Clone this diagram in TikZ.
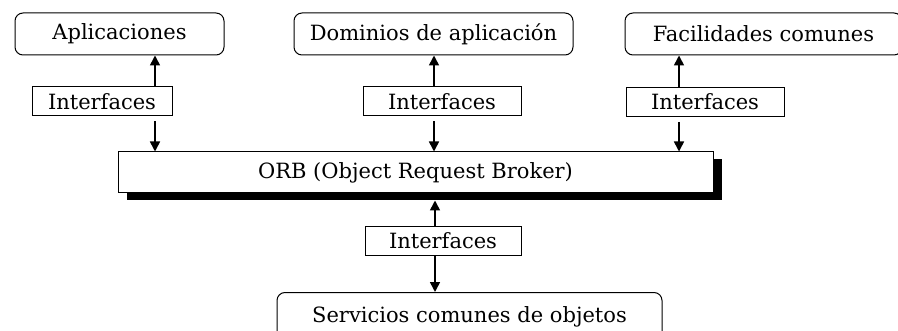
\documentclass[tikz,border=0pt]{standalone}
\usepackage{fontspec}
\setmainfont{DejaVu Serif}
\usetikzlibrary{positioning, arrows.meta, shadows}

\begin{document}
\begin{tikzpicture}[x=0.5pt, y=-0.5pt,
  rbox/.style={draw, rounded corners=4pt, line width=0.5pt, font=\fontsize{10.5}{12}\selectfont, inner sep=0pt},
  ibox/.style={draw, line width=0.5pt, font=\fontsize{10.5}{12}\selectfont, inner sep=0pt, minimum height=14.5pt},
  arr/.style={line width=0.8pt, -{Triangle[width=5pt, length=5pt]}}]
\useasboundingbox (0,0) rectangle (898,331);
% top row
\node[rbox, minimum width=104.5pt, minimum height=21pt] (app) at (119.5,34) {Aplicaciones};
\node[rbox, minimum width=139.5pt, minimum height=21pt] (dom) at (433.5,34) {Dominios de aplicación};
\node[rbox, minimum width=138.5pt, minimum height=21pt] (fac) at (763.5,34) {Facilidades comunes};
% interfaces
\node[ibox, minimum width=70pt] (if1) at (102,101.5) {Interfaces};
\node[ibox, minimum width=79pt] (if2) at (442,101.5) {Interfaces};
\node[ibox, minimum width=79pt] (if3) at (705,102) {Interfaces};
% broker
\node[draw, fill=white, line width=0.5pt, minimum width=297.5pt, minimum height=20.5pt,
  font=\fontsize{10.5}{12}\selectfont,
  drop shadow={shadow xshift=4.5pt, shadow yshift=-3.5pt, fill=black, opacity=1}] (orb) at (415.5,172.5) {ORB (Object Request Broker)};
\coordinate (orbsh) at ([yshift=-3.5pt]orb.south);
% bottom
\node[ibox, minimum width=78pt] (if4) at (443,240.5) {Interfaces};
\node[rbox, minimum width=192.5pt, minimum height=24pt, anchor=north] (srv) at (469.5,292) {\raisebox{-3pt}{Servicios comunes de objetos}};
% connectors
\draw[arr] (155,0 |- if1.north) -- (155,0 |- app.south);
\draw[arr, shorten <=2.5pt] (155,0 |- if1.south) -- (155,0 |- orb.north);
\draw[arr] (434,0 |- if2.north) -- (434,0 |- dom.south);
\draw[arr, shorten <=2.5pt] (434,0 |- if2.south) -- (434,0 |- orb.north);
\draw[arr] (679,0 |- if3.north) -- (679,0 |- fac.south);
\draw[arr, shorten <=2.5pt] (679,0 |- if3.south) -- (679,0 |- orb.north);
\draw[arr] (435,0 |- if4.north) -- (435,0 |- orbsh);
\draw[arr] (435,0 |- if4.south) -- (435,0 |- srv.north);
\end{tikzpicture}
\end{document}
